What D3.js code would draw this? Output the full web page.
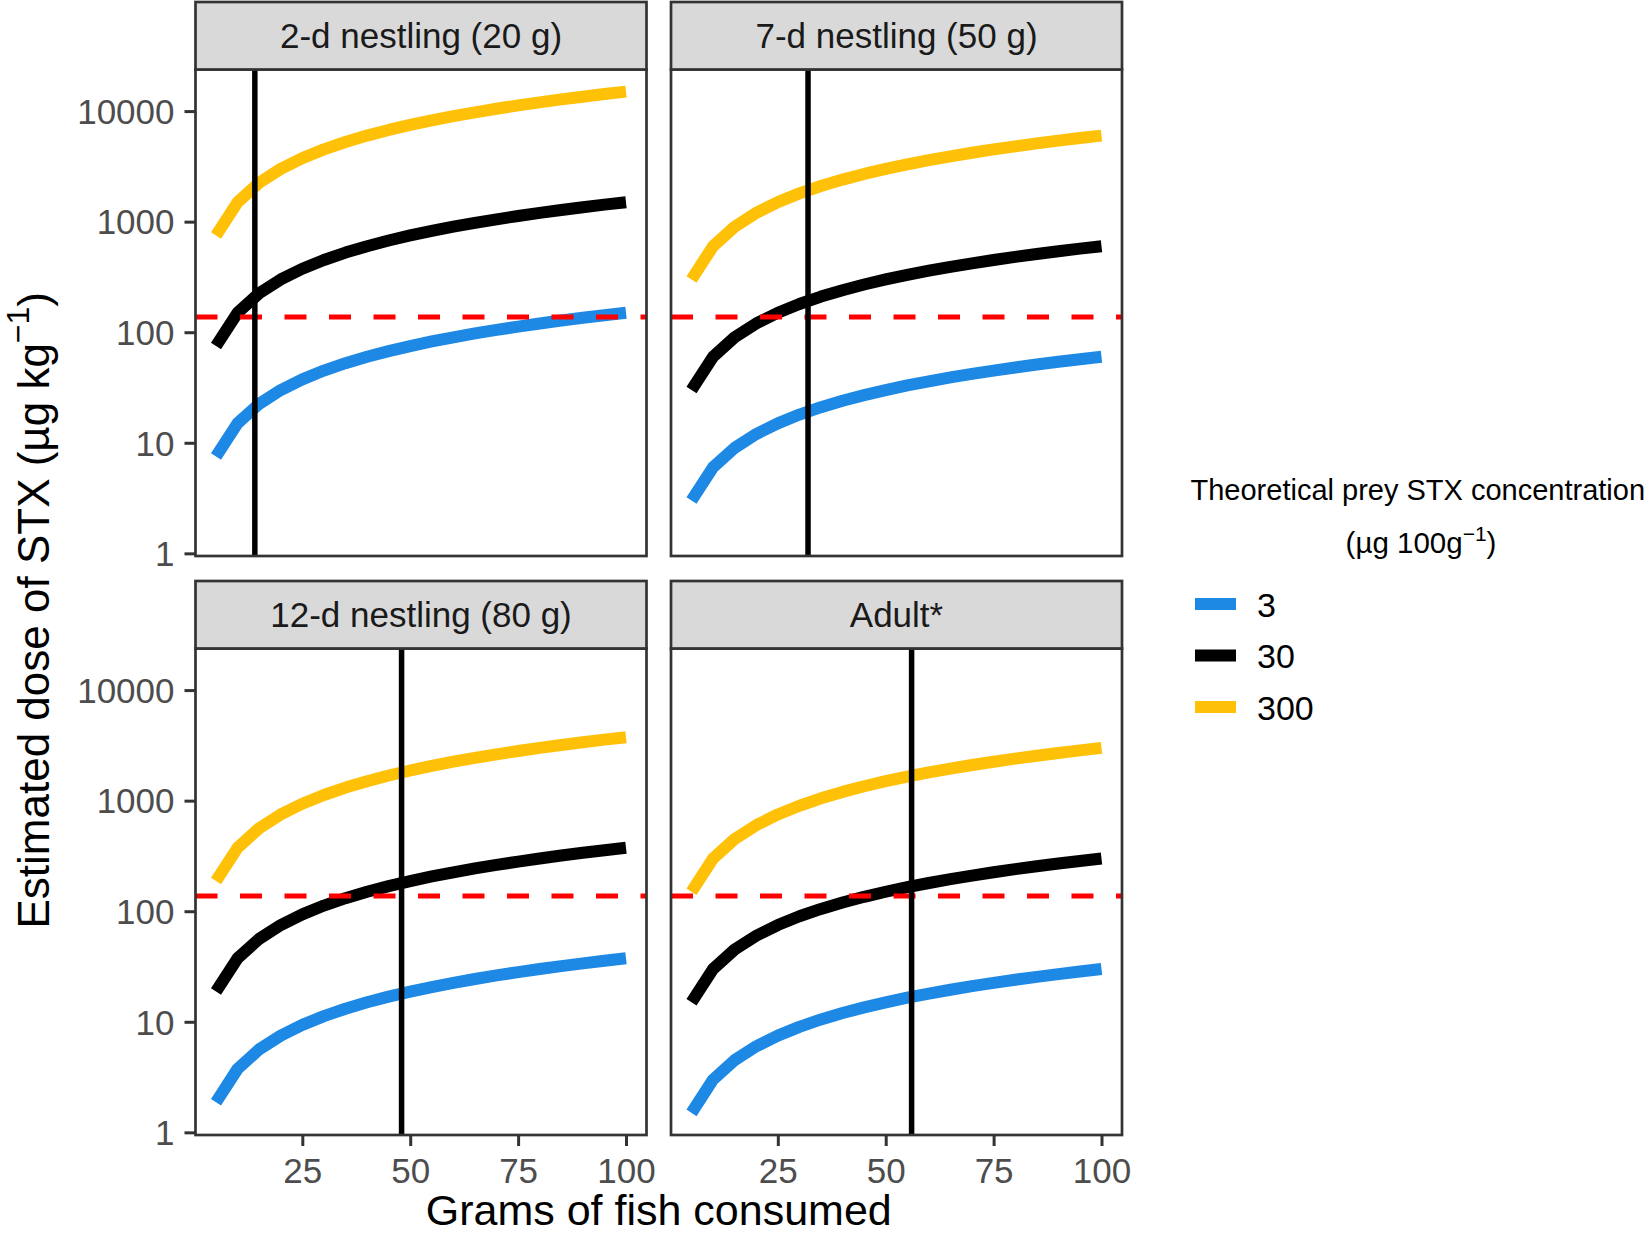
<!DOCTYPE html>
<html>
<head>
<meta charset="utf-8">
<script src="https://cdn.jsdelivr.net/npm/d3@7"></script>
<style>
  html, body { margin: 0; padding: 0; background: #fff; }
  svg { display: block; font-family: "Liberation Sans", Arial, sans-serif; }
</style>
</head>
<body>
<svg id="chart" width="1650" height="1236"></svg>
<script>
// ---------- data ----------
const grams = [5,10,15,20,25,30,35,40,45,50,55,60,65,70,75,80,85,90,95,100];
const panelNames = ["2-d nestling (20 g)", "7-d nestling (50 g)", "12-d nestling (80 g)", "Adult*"];
const concentrations = ["3", "30", "300"];
const seriesColors = ["#1E88E5", "#000000", "#FFC107"];

const dose2d_3   = [7.5,15,22.5,30,37.5,45,52.5,60,67.5,75,82.5,90,97.5,105,112.5,120,127.5,135,142.5,150];
const dose2d_30  = [75,150,225,300,375,450,525,600,675,750,825,900,975,1050,1125,1200,1275,1350,1425,1500];
const dose2d_300 = [750,1500,2250,3000,3750,4500,5250,6000,6750,7500,8250,9000,9750,10500,11250,12000,12750,13500,14250,15000];

const dose7d_3   = [3,6,9,12,15,18,21,24,27,30,33,36,39,42,45,48,51,54,57,60];
const dose7d_30  = [30,60,90,120,150,180,210,240,270,300,330,360,390,420,450,480,510,540,570,600];
const dose7d_300 = [300,600,900,1200,1500,1800,2100,2400,2700,3000,3300,3600,3900,4200,4500,4800,5100,5400,5700,6000];

const dose12d_3   = [1.875,3.75,5.625,7.5,9.375,11.25,13.125,15,16.875,18.75,20.625,22.5,24.375,26.25,28.125,30,31.875,33.75,35.625,37.5];
const dose12d_30  = [18.75,37.5,56.25,75,93.75,112.5,131.25,150,168.75,187.5,206.25,225,243.75,262.5,281.25,300,318.75,337.5,356.25,375];
const dose12d_300 = [187.5,375,562.5,750,937.5,1125,1312.5,1500,1687.5,1875,2062.5,2250,2437.5,2625,2812.5,3000,3187.5,3375,3562.5,3750];

const doseAdult_3   = [1.5,3,4.5,6,7.5,9,10.5,12,13.5,15,16.5,18,19.5,21,22.5,24,25.5,27,28.5,30];
const doseAdult_30  = [15,30,45,60,75,90,105,120,135,150,165,180,195,210,225,240,255,270,285,300];
const doseAdult_300 = [150,300,450,600,750,900,1050,1200,1350,1500,1650,1800,1950,2100,2250,2400,2550,2700,2850,3000];

const dailyIntake = [14, 32, 48, 56];   // vertical reference lines (g)
const toxicThreshold = 137;             // horizontal dashed line
const yTicks = [1, 10, 100, 1000, 10000];
const xTicks = [25, 50, 75, 100];

const panelSeries = [
  [dose2d_3, dose2d_30, dose2d_300],
  [dose7d_3, dose7d_30, dose7d_300],
  [dose12d_3, dose12d_30, dose12d_300],
  [doseAdult_3, doseAdult_30, doseAdult_300]
];

// ---------- layout ----------
const svg = d3.select("#chart");
const colX = [195.5, 671];
const panelW = 451;
const rowStripTop = [2, 581];
const stripH = 67.5;
const panelH = 486.5;
const borderCol = "#333333";

// scales (shared)
const allVals = panelSeries.flat(2);
const [yLo, yHi] = d3.extent(allVals).map(Math.log10);
const yPad = (yHi - yLo) * 0.05;
const [xLo, xHi] = d3.extent(grams);
const xPad = (xHi - xLo) * 0.05;

const line = (xs, ys) => d3.line().x((d,i) => xs(grams[i])).y(d => ys(d));

panelNames.forEach((name, p) => {
  const col = p % 2, row = Math.floor(p / 2);
  const left = colX[col];
  const stripTop = rowStripTop[row];
  const top = stripTop + stripH;
  const bottom = top + panelH;

  const x = d3.scaleLinear().domain([xLo - xPad, xHi + xPad]).range([left, left + panelW]);
  const y = d3.scaleLog().domain([Math.pow(10, yLo - yPad), Math.pow(10, yHi + yPad)]).range([bottom, top]);

  const g = svg.append("g");
  const clipId = "clip" + p;
  svg.append("clipPath").attr("id", clipId).append("rect")
    .attr("x", left).attr("y", top).attr("width", panelW).attr("height", panelH);

  const plotG = g.append("g").attr("clip-path", `url(#${clipId})`);

  // data lines
  panelSeries[p].forEach((vals, s) => {
    plotG.append("path")
      .datum(vals)
      .attr("d", line(x, y))
      .attr("fill", "none")
      .attr("stroke", seriesColors[s])
      .attr("stroke-width", 12)
      .attr("stroke-linejoin", "round")
      .attr("stroke-linecap", "butt");
  });

  // threshold dashed line
  plotG.append("line")
    .attr("x1", left).attr("x2", left + panelW)
    .attr("y1", y(toxicThreshold)).attr("y2", y(toxicThreshold))
    .attr("stroke", "#FF0000").attr("stroke-width", 5)
    .attr("stroke-dasharray", "22,22.5");

  // vertical intake line
  plotG.append("line")
    .attr("x1", x(dailyIntake[p])).attr("x2", x(dailyIntake[p]))
    .attr("y1", top).attr("y2", bottom)
    .attr("stroke", "#000").attr("stroke-width", 5.5);

  // panel border
  g.append("rect")
    .attr("x", left).attr("y", top).attr("width", panelW).attr("height", panelH)
    .attr("fill", "none").attr("stroke", borderCol).attr("stroke-width", 2.7);

  // strip
  g.append("rect")
    .attr("x", left).attr("y", stripTop).attr("width", panelW).attr("height", stripH)
    .attr("fill", "#D9D9D9").attr("stroke", borderCol).attr("stroke-width", 2.7);
  g.append("text")
    .attr("x", left + panelW / 2).attr("y", stripTop + 46)
    .attr("text-anchor", "middle")
    .attr("font-size", 35).attr("fill", "#1A1A1A")
    .text(name);

  // y axis on left column
  if (col === 0) {
    const yAxis = d3.axisLeft(y).tickValues(yTicks).tickFormat(d3.format("d")).tickSize(11).tickPadding(10);
    const ya = g.append("g").attr("transform", `translate(${left},0)`).call(yAxis);
    ya.select(".domain").remove();
    ya.selectAll(".tick line").attr("stroke", borderCol).attr("stroke-width", 3);
    ya.selectAll(".tick text").attr("font-size", 35).attr("fill", "#4D4D4D")
      .attr("font-family", "Liberation Sans, Arial, sans-serif").attr("dy", "0.35em");
  }
  // x axis on bottom row
  if (row === 1) {
    const xAxis = d3.axisBottom(x).tickValues(xTicks).tickFormat(d3.format("d")).tickSize(11).tickPadding(12);
    const xa = g.append("g").attr("transform", `translate(0,${bottom})`).call(xAxis);
    xa.select(".domain").remove();
    xa.selectAll(".tick line").attr("stroke", borderCol).attr("stroke-width", 3);
    xa.selectAll(".tick text").attr("font-size", 35).attr("fill", "#4D4D4D")
      .attr("font-family", "Liberation Sans, Arial, sans-serif").attr("dy", "0.71em");
  }
});

// axis titles
svg.append("text")
  .attr("x", (colX[0] + colX[1] + panelW) / 2).attr("y", 1225)
  .attr("text-anchor", "middle").attr("font-size", 43).attr("fill", "#000")
  .text("Grams of fish consumed");

const yTitle = svg.append("text")
  .attr("transform", `translate(49, ${(rowStripTop[0] + stripH + rowStripTop[1] + stripH + panelH) / 2 + 8}) rotate(-90)`)
  .attr("text-anchor", "middle").attr("font-size", 44).attr("fill", "#000");
yTitle.append("tspan").text("Estimated dose of STX (µg kg");
yTitle.append("tspan").attr("font-size", 32).attr("dy", -20).text("−1");
yTitle.append("tspan").attr("dy", 20).text(")");

// legend
const legG = svg.append("g");
legG.append("text").attr("x", 1190.5).attr("y", 500)
  .attr("font-size", 29).attr("fill", "#000")
  .text("Theoretical prey STX concentration");
const lt2 = legG.append("text").attr("x", 1421).attr("y", 553)
  .attr("text-anchor", "middle").attr("font-size", 29.5).attr("fill", "#000");
lt2.append("tspan").text("(µg 100g");
lt2.append("tspan").attr("font-size", 21).attr("dy", -12).text("−1");
lt2.append("tspan").attr("dy", 12).text(")");

const legY = d3.scalePoint().domain(concentrations).range([604, 707]);
concentrations.forEach((c, i) => {
  legG.append("line")
    .attr("x1", 1195).attr("x2", 1236)
    .attr("y1", legY(c)).attr("y2", legY(c))
    .attr("stroke", seriesColors[i]).attr("stroke-width", 12);
  legG.append("text")
    .attr("x", 1257).attr("y", legY(c) + 12.5)
    .attr("font-size", 34).attr("fill", "#000")
    .text(c);
});
</script>
</body>
</html>
